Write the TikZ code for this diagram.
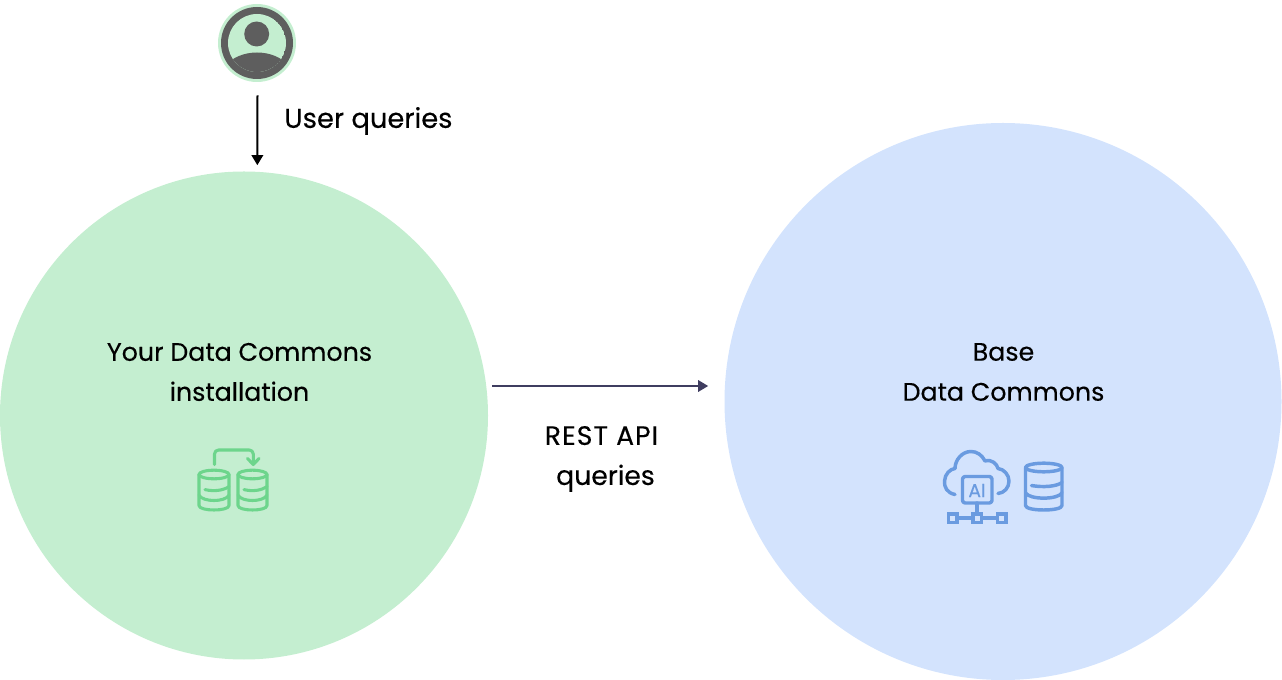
\documentclass[tikz,border=0pt]{standalone}
\usepackage{fontspec}
\setmainfont{Poppins}[FakeBold=0.25]
\usetikzlibrary{arrows.meta}

\definecolor{greenfill}{HTML}{C4EED0}
\definecolor{bluefill}{HTML}{D3E3FD}
\definecolor{greenline}{HTML}{6DD58C}
\definecolor{blueline}{HTML}{6A9BE0}
\definecolor{usergrey}{HTML}{5E5E5E}
\definecolor{restline}{HTML}{3F3D60}

\tikzset{
  bigcircle/.style={circle,inner sep=0pt,fill=#1},
  bigtext/.style={align=center,inner sep=0pt,font={\fontsize{19pt}{30pt}\selectfont},text=black},
  flowarrow/.style={-{Triangle[length=7.5pt,width=8.5pt]},line width=1.5pt}
}

% one database drum: left, right, top ellipse centre, bottom
\newcommand{\dbdrum}[4]{
  \draw ({(#1+#2)/2},#3) ellipse [x radius={(#2-#1)/2},y radius=4.3];
  \draw (#1,#3) -- (#1,#4-5) .. controls (#1,#4+1) and (#2,#4+1) .. (#2,#4-5) -- (#2,#3);
  \draw (#1+6,{#3+(#4-#3)*0.42}) .. controls ({(#1+#2)/2},{#3+(#4-#3)*0.42+2}) and (#2-6,{#3+(#4-#3)*0.42+1}) .. (#2,{#3+(#4-#3)*0.42-3});
  \draw (#1,{#3+(#4-#3)*0.66-3}) .. controls (#1+4,{#3+(#4-#3)*0.66+4}) and (#2-4,{#3+(#4-#3)*0.66+4}) .. (#2,{#3+(#4-#3)*0.66-3});
}

\begin{document}
\begin{tikzpicture}[x=0.75pt,y=-0.75pt]
  \useasboundingbox (0,0) rectangle (1282,680);

  %circles
  \node[bigcircle=greenfill,minimum size=366pt] (yourdc) at (244,415.5) {};
  \node[bigcircle=bluefill,minimum size=417.75pt] (basedc) at (1003,401.5) {};

  %user
  \node[bigcircle=greenfill,minimum size=58.5pt] (user) at (257,43) {};
  \fill[usergrey] (user.center) circle (36);
  \begin{scope}
    \clip (user.center) circle (29);
    \fill[greenfill] (user.center) circle (29);
    \fill[usergrey] (225,66) .. controls (240,48) and (274,48) .. (289,66) -- (289,80) -- (225,80) -- cycle;
  \end{scope}
  \fill[usergrey] (256.7,34) circle (12.5);

  %labels
  \node[bigtext] (yourlabel) at (239.5,372) {Your Data Commons\\installation};
  \node[bigtext] (baselabel) at (1003.5,372) {Base\\Data Commons};
  \node[bigtext,font={\fontsize{20pt}{30pt}\selectfont}] (restlabel) at (601.5,459) {{\addfontfeature{LetterSpace=4}REST API}\\\hspace{6pt}queries};
  \node[bigtext,anchor=west,font={\fontsize{20.5pt}{30pt}\selectfont}] (userlabel) at (284,121) {User queries};

  %arrows
  \coordinate (restrow) at (600,386);
  \draw[flowarrow] (user.south) ++(0.5,13) -- ([xshift=10pt,yshift=4.5pt]yourdc.north);
  \draw[flowarrow,restline] (yourdc.east |- restrow) ++(4,0) -- ([xshift=-12pt]basedc.west |- restrow);

  %green icon
  \begin{scope}[greenline,line width=2.3pt,line cap=round,line join=round]
    \dbdrum{199}{229}{474.5}{510.5}
    \dbdrum{238}{267}{474.5}{510.5}
    \draw[rounded corners=3pt] (214.5,464.5) -- (214.5,450) -- (253.3,450) -- (253.3,464);
    \draw (247.5,458.5) -- (253.3,464.5) -- (259,458.5);
  \end{scope}

  %blue icon
  \begin{scope}[blueline,line width=2.6pt,line cap=round,line join=round]
    \dbdrum{1025.5}{1062}{467.5}{510.5}
    \draw (955,494.5) .. controls (947,493) and (944,487) .. (944.5,481)
      .. controls (945,474) and (950,469) .. (955,468.5)
      .. controls (955,460) and (962,451.5) .. (971,451.5)
      .. controls (977,451.5) and (982,455) .. (985,461)
      .. controls (992,459) and (997,464) .. (998,468.5)
      .. controls (1004,469) and (1009,475) .. (1009,481)
      .. controls (1009,488) and (1004,493) .. (998,493.5);
    \draw[rounded corners=2pt] (962.5,476.5) rectangle (992,503);
    \draw (977,503) -- (977,514);
    \draw (957,518) -- (973,518) (982,518) -- (997,518);
    \draw[line cap=butt,line join=miter] (948.5,514) rectangle (957,522.5);
    \draw[line cap=butt,line join=miter] (973,514) rectangle (981.5,522.5);
    \draw[line cap=butt,line join=miter] (997.5,514) rectangle (1006,522.5);
    \node[text=blueline,font={\fontsize{14pt}{16pt}\selectfont}] (ailabel) at (977,490.5) {AI};
  \end{scope}
\end{tikzpicture}
\end{document}
